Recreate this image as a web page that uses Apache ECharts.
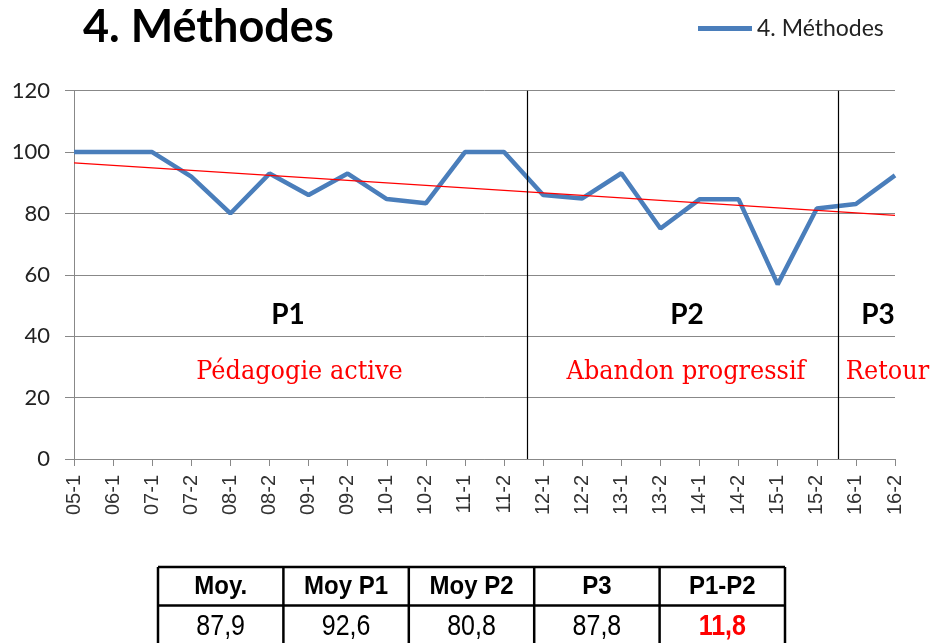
<!DOCTYPE html>
<html><head><meta charset="utf-8">
<script src="https://cdn.jsdelivr.net/npm/echarts@6/dist/echarts.min.js"></script>
<style>html,body{margin:0;padding:0;background:#fff}#c{width:932px;height:643px}</style>
</head><body><div id="c"></div>
<script>
// ---- data ----
const categories = ['05-1','06-1','07-1','07-2','08-1','08-2','09-1','09-2','10-1','10-2','11-1','11-2',
                    '12-1','12-2','13-1','13-2','14-1','14-2','15-1','15-2','16-1','16-2'];
const methodes = [100,100,100,92,80,93,86,93,84.7,83.3,100,100,
                  86,84.9,93.1,75.1,84.6,84.6,56.9,81.6,83.1,92.4];
const periodBreaks = [11.6, 19.56];
const periodLabels = ['P1','P2','P3'];
const periodNames = ['Pédagogie active','Abandon progressif','Retour'];
const tableHeaders = ['Moy.','Moy P1','Moy P2','P3','P1-P2'];
const tableValues = ['87,9','92,6','80,8','87,8','11,8'];

// linear trend (least squares) of the series
const n = methodes.length;
const mx = (n - 1) / 2;
const my = methodes.reduce((a, b) => a + b, 0) / n;
let sxy = 0, sxx = 0;
methodes.forEach((v, i) => { sxy += (i - mx) * (v - my); sxx += (i - mx) * (i - mx); });
const slope = sxy / sxx, intercept = my - slope * mx;
const trend = [[0, intercept], [n - 1, intercept + slope * (n - 1)]];

// ---- layout ----
const periodLabelX = [288, 687, 878];
const periodNameX = [299.5, 686, 887.5];
const tblLeft = 158, tblTop = 567, colW = 125.4, rowH = 38.6;

const graphics = [];
periodLabels.forEach((t, i) => graphics.push({
  type: 'text', x: periodLabelX[i], y: 315,
  style: { text: t, font: 'bold 28px Lato', fill: '#000', align: 'center', verticalAlign: 'middle' }
}));
periodNames.forEach((t, i) => graphics.push({
  type: 'text', x: periodNameX[i], y: 372, scaleY: 1.08,
  style: { text: t, font: '24px "DejaVu Serif"', fill: '#ff0000', align: 'center', verticalAlign: 'middle' }
}));
// table
const tblW = colW * tableHeaders.length;
for (let r = 0; r <= 2; r++) {
  graphics.push({ type: 'line', shape: { x1: tblLeft, y1: tblTop + r * rowH, x2: tblLeft + tblW, y2: tblTop + r * rowH },
    style: { stroke: '#000', lineWidth: 2.5 } });
}
for (let c = 0; c <= tableHeaders.length; c++) {
  graphics.push({ type: 'line', shape: { x1: tblLeft + c * colW, y1: tblTop, x2: tblLeft + c * colW, y2: tblTop + 2 * rowH },
    style: { stroke: '#000', lineWidth: 2.5 } });
}
tableHeaders.forEach((h, c) => {
  graphics.push({ type: 'text', x: tblLeft + (c + 0.5) * colW, y: tblTop + rowH / 2 + 1, scaleY: 1.08,
    style: { text: h, font: 'bold 24px "Liberation Sans"', fill: '#000', align: 'center', verticalAlign: 'middle' } });
});
tableValues.forEach((v, c) => {
  const last = c === tableValues.length - 1;
  graphics.push({ type: 'text', x: tblLeft + (c + 0.5) * colW, y: tblTop + rowH * 1.5 + 2, scaleY: 1.15,
    style: { text: v, font: (last ? 'bold ' : '') + '25px "Liberation Sans"', fill: last ? '#ff0000' : '#000', align: 'center', verticalAlign: 'middle' } });
});

const chart = echarts.init(document.getElementById('c'), null, { renderer: 'canvas' });
chart.setOption({
  animation: false,
  backgroundColor: '#fff',
  title: {
    text: '4. Méthodes', left: 78, top: 0,
    textStyle: { fontFamily: 'Lato', fontWeight: 'bold', fontSize: 45, color: '#000' }
  },
  legend: {
    left: 693, top: 12, itemWidth: 54, itemHeight: 5, icon: 'rect', data: ['4. Méthodes'],
    textStyle: { fontFamily: 'Lato', fontSize: 23, color: '#222' }
  },
  grid: { left: 74, right: 37, top: 90.7, bottom: 184, containLabel: false },
  xAxis: [{
    type: 'category', data: categories, boundaryGap: false,
    axisLine: { lineStyle: { color: '#888', width: 1 } },
    axisTick: { length: 7, lineStyle: { color: '#888' } },
    axisLabel: { interval: 0, rotate: 90, margin: 16, fontFamily: 'Liberation Sans', fontSize: 20, color: '#333' },
    splitLine: { show: false }
  }, {
    type: 'value', min: 0, max: n - 1, show: false, gridIndex: 0
  }],
  yAxis: {
    type: 'value', min: 0, max: 120, interval: 20,
    axisLine: { show: true, lineStyle: { color: '#888', width: 1 } },
    axisTick: { show: true, length: 9, lineStyle: { color: '#888' } },
    axisLabel: { margin: 24, fontFamily: 'Lato', fontSize: 22, color: '#222' },
    splitLine: { lineStyle: { color: '#888', width: 1 } }
  },
  series: [{
    name: '4. Méthodes', type: 'line', data: methodes, symbol: 'none',
    lineStyle: { color: '#4a7ebb', width: 4.5 }, itemStyle: { color: '#4a7ebb' }, z: 3
  }, {
    name: 'trend', type: 'line', xAxisIndex: 1, data: trend, symbol: 'none', silent: true,
    lineStyle: { color: '#ff0000', width: 1.2 }, z: 4,
    markLine: {
      silent: true, symbol: 'none', label: { show: false },
      lineStyle: { color: '#000', width: 1.2, type: 'solid' },
      data: periodBreaks.map(b => ({ xAxis: b }))
    }
  }],
  graphic: graphics
});
</script>
</body></html>
